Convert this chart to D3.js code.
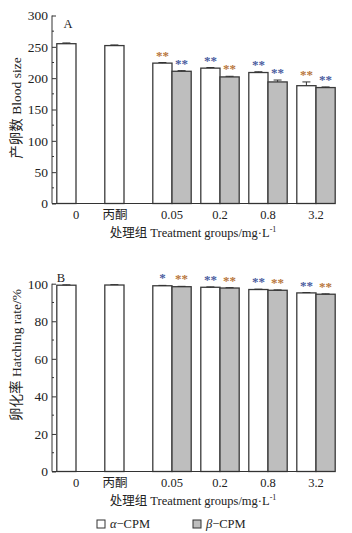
<!DOCTYPE html>
<html><head><meta charset="utf-8">
<script src="https://cdn.jsdelivr.net/npm/d3@7"></script>
<style>
body{margin:0;background:#fff;}
text{font-family:"Liberation Serif","Noto Sans CJK SC",serif;fill:#222;}
</style></head>
<body><svg id="c" width="352" height="533"></svg>
<script>
const groups = ["0","丙酮","0.05","0.2","0.8","3.2"];
// Blood size (panel A)
const alphaBlood = [255,252,224,216,209,188];
const alphaBloodErr = [1.2,1,1,1,1.2,6];
const betaBlood = [null,null,211,202,194,185];
const betaBloodErr = [null,null,1,1,3,1];
const alphaBloodSig = ["","","**","**","**","**"];
const betaBloodSig = ["","","**","**","**","**"];
// Hatching rate (panel B)
const alphaHatch = [99.2,99.3,98.9,98.1,96.9,95.1];
const alphaHatchErr = [0.2,0.2,0.2,0.2,0.2,0.2];
const betaHatch = [null,null,98.4,97.7,96.5,94.4];
const betaHatchErr = [null,null,0.2,0.2,0.2,0.2];
const alphaHatchSig = ["","","*","**","**","**"];
const betaHatchSig = ["","","**","**","**","**"];
const ticksA = [0,50,100,150,200,250,300];
const ticksB = [0,20,40,60,80,100];
// star colour keys (o = orange, b = blue)
const alphaBloodCol = ["","","o","b","b","o"];
const betaBloodCol = ["","","b","o","b","b"];
const alphaHatchCol = ["","","b","b","b","b"];
const betaHatchCol = ["","","o","o","o","o"];

const starColor = {o:"#b8763c", b:"#4a5c9e"};
const svg = d3.select("#c");
const x = d3.scaleBand().domain(groups).range([52,340]).paddingInner(0.2).paddingOuter(0.1);
const half = x.bandwidth()/2;

function panel(cfg){
  const y = d3.scaleLinear().domain([0,cfg.max]).range([cfg.y0,cfg.y1]);
  const g = svg.append("g");
  const series = [
    {vals:cfg.a, err:cfg.ae, sig:cfg.as, col:cfg.ac, fill:"#ffffff", off:0},
    {vals:cfg.b, err:cfg.be, sig:cfg.bs, col:cfg.bc, fill:"#bebebe", off:half}
  ];
  series.forEach(s=>{
    groups.forEach((gname,i)=>{
      const v = s.vals[i];
      if(v==null) return;
      const bx = x(gname)+s.off;
      g.append("rect").attr("x",bx).attr("y",y(v)).attr("width",half).attr("height",y(0)-y(v))
        .attr("fill",s.fill).attr("stroke","#3a3a3a").attr("stroke-width",1.3);
      const cx = bx+half/2;
      const e = s.err[i];
      g.append("line").attr("x1",cx).attr("x2",cx).attr("y1",y(v)).attr("y2",y(v+e)).attr("stroke","#333").attr("stroke-width",1);
      g.append("line").attr("x1",cx-4).attr("x2",cx+4).attr("y1",y(v+e)).attr("y2",y(v+e)).attr("stroke","#333").attr("stroke-width",1);
      if(s.sig[i]){
        g.append("text").attr("x",cx).attr("y",y(v+e)-3).attr("text-anchor","middle")
          .attr("font-size",13).attr("font-weight","bold").style("fill",starColor[s.col[i]])
          .attr("letter-spacing","0").text(s.sig[i]);
      }
    });
  });
  const ax = d3.axisLeft(y).tickValues(cfg.ticks).tickSize(-4).tickPadding(4);
  const ga = g.append("g").attr("transform","translate(52,0)").call(ax);
  ga.select(".domain").attr("stroke","#333").attr("d",`M0,${cfg.y0}V${cfg.y1}`);
  ga.selectAll(".tick line").attr("stroke","#333");
  ga.selectAll("text").attr("font-size",13.5).style("font-family",'"Liberation Serif",serif').style("fill","#222");
  const step = cfg.ticks[1]-cfg.ticks[0];
  cfg.ticks.slice(0,-1).forEach(t=>{
    g.append("line").attr("x1",52).attr("x2",54).attr("y1",y(t+step/2)).attr("y2",y(t+step/2)).attr("stroke","#333");
  });
  g.append("line").attr("x1",52).attr("x2",335).attr("y1",y(0)).attr("y2",y(0)).attr("stroke","#333").attr("stroke-width",1.2);
  groups.forEach((gname,i)=>{
    const cx = x(gname)+half + (i===1 ? -9 : 0);
    g.append("text").attr("x",cx).attr("y",y(0)+15).attr("text-anchor","middle").attr("font-size",12.5).text(gname);
  });
  const xt = g.append("text").attr("x",193).attr("y",y(0)+33).attr("text-anchor","middle").attr("font-size",12.5);
  xt.append("tspan").text("处理组 Treatment groups/mg·L");
  xt.append("tspan").attr("dy",-5).attr("font-size",8).text("-1");
  g.append("text").attr("transform",`translate(21,${cfg.ty}) rotate(-90)`).attr("text-anchor","middle").attr("font-size",13.5).text(cfg.title);
  g.append("text").attr("x",cfg.lx).attr("y",cfg.ly).attr("text-anchor","middle").attr("font-size",12.5).text(cfg.label);
}

panel({max:300,y0:203.5,y1:15.5,a:alphaBlood,ae:alphaBloodErr,b:betaBlood,be:betaBloodErr,as:alphaBloodSig,bs:betaBloodSig,ac:alphaBloodCol,bc:betaBloodCol,ticks:ticksA,title:"产卵数 Blood size",ty:108,label:"A",lx:68,ly:28});
panel({max:100,y0:471.5,y1:283.7,a:alphaHatch,ae:alphaHatchErr,b:betaHatch,be:betaHatchErr,as:alphaHatchSig,bs:betaHatchSig,ac:alphaHatchCol,bc:betaHatchCol,ticks:ticksB,title:"卵化率 Hatching rate/%",ty:355,label:"B",lx:61,ly:282});

const legend = [{name:"α",fill:"#ffffff",x:97},{name:"β",fill:"#bebebe",x:193}];
legend.forEach(l=>{
  svg.append("rect").attr("x",l.x).attr("y",520).attr("width",8).attr("height",8).attr("fill",l.fill).attr("stroke","#333").attr("stroke-width",1);
  const t = svg.append("text").attr("x",l.x+13).attr("y",528).attr("font-size",12.5);
  t.append("tspan").attr("font-style","italic").text(l.name);
  t.append("tspan").text("−CPM");
});
</script></body></html>
